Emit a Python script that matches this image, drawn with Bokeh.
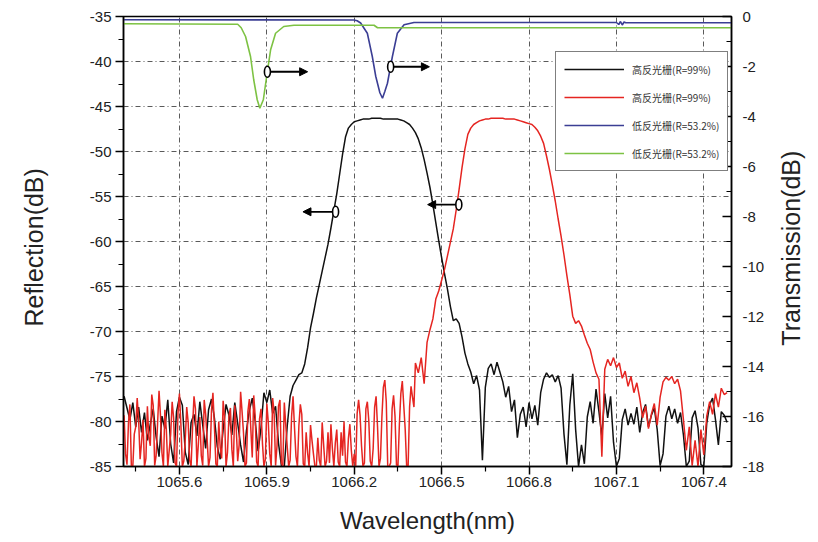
import numpy as np
from bokeh.plotting import figure
from bokeh.layouts import row
from bokeh.core.properties import value
from bokeh.models import (Range1d, LinearAxis, FixedTicker, PrintfTickFormatter,
                          Legend, LegendItem, Arrow, NormalHead)
from bokeh.embed import file_html
from bokeh.resources import INLINE

# ---------------- data ----------------
STEP = 0.01       # OSA sampling step of the reflection traces (nm)
FINE_STEP = 0.005 # denser sampling used for the red noise floor

# High-reflectivity grating, reflection (dB, left axis)
black_left_start = 1065.41
black_left_db = [-77.2, -78.5, -79.8, -77.9, -80.6, -78.4, -81.2, -79.0, -82.1, -80.3,
                 -78.6, -81.7, -83.9, -79.4, -80.8, -77.6, -82.5, -84.6, -78.9, -77.3,
                 -78.2, -83.4, -84.8, -80.1, -79.2, -81.6, -77.8, -80.4, -83.0, -78.7,
                 -77.5, -79.6, -82.8, -84.2, -80.9, -78.1, -79.3, -81.5, -77.9, -80.2,
                 -82.6, -84.5, -81.0, -78.8, -77.4, -79.9, -83.3, -80.7, -76.8, -77.9,
                 -76.5, -79.1, -78.3, -82.4, -84.9, -85.0, -80.5, -77.2, -76.0, -75.4,
                 -74.8]
black_peak_start = 1066.02
black_peak_db = [-74.6, -73.6, -71.8, -69.6, -68.0, -66.3, -64.8, -63.3, -61.8, -60.3,
                 -58.5, -56.6, -54.7, -52.5, -50.3, -48.4, -47.4, -47.0, -46.7, -46.6,
                 -46.5, -46.4, -46.4, -46.4, -46.3, -46.3, -46.3, -46.3, -46.4, -46.4,
                 -46.4, -46.4, -46.4, -46.4, -46.5, -46.6, -46.8, -47.0, -47.4, -47.9,
                 -48.6, -49.6, -50.9, -52.4, -54.0, -55.9, -57.9, -59.9, -61.8, -63.6,
                 -65.3, -67.2, -68.8, -68.6, -69.1, -70.6, -72.4, -73.6, -74.5]
black_right_start = 1066.61
black_right_db = [-75.8, -74.9, -76.5, -84.3, -76.2, -74.1, -73.6, -74.8, -73.4, -74.5,
                  -75.6, -77.3, -76.1, -78.9, -77.6, -81.8, -79.2, -78.4, -80.6, -77.9,
                  -79.7, -78.2, -80.4, -76.8, -75.3, -74.6, -75.1, -74.8, -75.6, -74.9,
                  -76.3, -81.4, -84.8, -78.2, -74.7, -80.9, -85.0, -82.6, -84.7, -79.5,
                  -77.8, -80.2, -76.4, -78.9, -81.7, -76.9, -79.6, -77.2, -82.3, -85.0,
                  -84.1, -79.8, -78.6, -80.4, -79.1, -80.3, -78.4, -81.2, -79.0, -78.1,
                  -80.6, -79.3, -78.5, -80.9, -84.9, -83.6, -79.4, -78.3, -79.7, -78.6,
                  -80.2, -79.0, -81.5, -85.0, -84.4, -79.6, -78.8, -80.7, -84.8, -85.0,
                  -80.2, -78.1, -77.4, -79.8, -82.6, -78.9, -79.3, -80.1]

# Second high-reflectivity grating, reflection (dB, left axis)
red_left_start = 1065.41
red_left_db = [-79.3, -83.6, -84.8, -80.2, -78.1, -85.0, -85.0, -81.4, -80.6, -77.4,
               -79.9, -84.2, -82.3, -79.8, -85.0, -84.1, -78.3, -81.7, -82.7, -77.0,
               -78.2, -84.9, -83.8, -80.2, -76.6, -79.4, -83.5, -85.0, -78.7, -80.9,
               -85.0, -83.2, -81.4, -77.8, -79.6, -84.6, -85.0, -79.1, -76.9, -80.3,
               -85.0, -84.4, -82.0, -78.4, -80.1, -84.3, -85.0, -80.7, -77.2, -78.6,
               -85.0, -82.5, -79.5, -83.8, -84.9, -77.6, -79.2, -81.9, -85.0, -84.0,
               -78.8, -76.8, -80.5, -84.7, -85.0, -80.0, -82.9, -84.1, -77.7, -79.6,
               -85.0, -83.4, -79.4, -78.5, -83.1, -85.0, -78.2, -80.8, -84.4, -82.6,
               -76.7, -78.9, -81.3, -85.0, -84.6, -78.9, -77.5, -80.8, -84.0, -77.1,
               -79.4, -84.5, -85.0, -79.7, -78.6, -82.4, -85.0, -84.2, -78.0, -80.1,
               -83.6, -85.0, -77.4, -79.0, -84.9, -82.7, -78.3, -77.6, -84.6, -85.0,
               -77.9, -80.4, -82.8, -85.0, -84.3, -79.4, -77.2, -80.7, -83.9, -85.0,
               -80.5, -78.1, -79.2, -84.7, -85.0, -81.2, -83.5, -85.0, -80.4, -82.1,
               -83.6, -85.0, -85.0, -81.8, -84.3, -85.0, -80.1, -82.6, -85.0, -84.4,
               -81.2, -84.6, -80.3, -83.0, -85.0, -82.4, -80.9, -84.5, -85.0, -81.2,
               -83.8, -80.0, -84.5, -85.0, -81.9, -80.3, -83.2, -85.0, -83.6, -85.0,
               -79.1, -77.6, -79.3, -82.7, -85.0, -84.6, -78.6, -77.8, -79.9, -84.4,
               -85.0, -83.0, -78.4, -77.2, -80.6, -85.0, -84.1, -79.5, -76.2, -75.4,
               -77.8, -85.0, -85.0, -84.6, -78.6, -77.1, -79.4, -84.8, -85.0, -80.3,
               -76.9, -75.5, -78.2, -80.9, -85.0, -85.0, -78.4, -76.1, -77.3, -78.4]
red_peak_start = 1066.41
red_peak_db = [-73.5, -74.6, -72.9, -75.8, -71.2, -69.8, -68.6, -66.4, -65.5, -64.3,
               -63.1, -61.6, -60.1, -58.6, -56.5, -54.2, -51.8, -49.7, -48.1, -47.4,
               -47.0, -46.8, -46.6, -46.5, -46.4, -46.4, -46.3, -46.3, -46.3, -46.3,
               -46.3, -46.4, -46.4, -46.4, -46.4, -46.5, -46.6, -46.7, -46.8, -46.9,
               -47.0, -47.3, -47.7, -48.3, -49.1, -50.5, -52.0, -53.7, -55.5, -57.5,
               -59.4, -61.5, -63.8, -65.9, -68.3, -69.1, -68.8, -69.4, -70.4, -71.3,
               -72.0, -73.4, -74.6]
red_right_start = 1067.04
red_right_db = [-75.3, -83.9, -74.2, -73.1, -73.8, -72.9, -74.0, -73.5, -75.2, -74.4,
                -76.1, -75.0, -76.8, -75.7, -77.4, -79.6, -78.3, -80.8, -79.2, -78.0,
                -80.4, -77.3, -75.6, -75.1, -75.4, -75.0, -75.8, -75.3, -76.6, -79.8,
                -83.2, -80.6, -84.9, -82.1, -85.0, -80.9, -83.7, -79.4, -77.8, -79.2,
                -76.9, -78.4, -76.3, -77.0, -76.8]

# Low-reflectivity gratings, transmission (dB, right axis)
blue_wl = [1065.408, 1066.199, 1066.210, 1066.222, 1066.245, 1066.262, 1066.274, 1066.288,
           1066.297, 1066.305, 1066.314, 1066.331, 1066.348, 1066.371, 1066.405,
           1067.100, 1067.108, 1067.114, 1067.120, 1067.126, 1067.132, 1067.495]
blue_t = [-0.13, -0.14, -0.17, -0.26, -0.67, -1.6, -2.4, -3.05,
          -3.27, -3.0, -2.67, -1.6, -0.67, -0.33, -0.24,
          -0.24, -0.32, -0.2, -0.34, -0.22, -0.25, -0.25]

green_wl = [1065.408, 1065.800, 1065.812, 1065.827, 1065.844, 1065.855, 1065.867, 1065.876,
            1065.888, 1065.901, 1065.913, 1065.930, 1065.958, 1065.993, 1066.268, 1066.280,
            1067.495]
green_t = [-0.29, -0.31, -0.45, -0.8, -1.6, -2.53, -3.33, -3.67,
           -3.33, -2.27, -1.33, -0.67, -0.4, -0.35, -0.35, -0.45,
           -0.45]

series_labels = ["高反光栅(R=99%)", "高反光栅(R=99%)", "低反光栅(R=53.2%)", "低反光栅(R=53.2%)"]

x_ticks = [1065.6, 1065.9, 1066.2, 1066.5, 1066.8, 1067.1, 1067.4]
x_minor = [1065.45, 1065.75, 1066.05, 1066.35, 1066.65, 1066.95, 1067.25]
y_ticks = [-85, -80, -75, -70, -65, -60, -55, -50, -45, -40, -35]
y_minor = [-82.5, -77.5, -72.5, -67.5, -62.5, -57.5, -52.5, -47.5, -42.5, -37.5]
t_ticks = [-18, -16, -14, -12, -10, -8, -6, -4, -2, 0]
t_minor = [-17, -15, -13, -11, -9, -7, -5, -3, -1]
x_title = "Wavelength(nm)"
left_title = "Reflection(dB)"
right_title = "Transmission(dB)"

# annotation anchors (circle on curve, arrow towards its axis)
# (x_circle, y_circle, x_arrow_end, range)
marks = [
    (1065.902, -2.21, 1066.040, "trans"),   # green -> right axis
    (1066.325, -2.01, 1066.458, "trans"),   # blue  -> right axis
    (1066.136, -56.7, 1066.024, "default"),  # black -> left axis
    (1066.559, -55.9, 1066.452, "default"),  # red   -> left axis
]

# ---------------- build traces ----------------
def seg(start, vals, step=STEP):
    return start + step * np.arange(len(vals))

black_wl = np.concatenate([seg(black_left_start, black_left_db),
                           seg(black_peak_start, black_peak_db),
                           seg(black_right_start, black_right_db)])
black_db = black_left_db + black_peak_db + black_right_db
red_wl = np.concatenate([seg(red_left_start, red_left_db, FINE_STEP),
                         seg(red_peak_start, red_peak_db),
                         seg(red_right_start, red_right_db)])
red_db = red_left_db + red_peak_db + red_right_db

BLACK = "#111111"
RED = "#e52521"
BLUE = "#3b3e94"
GREEN = "#7dc243"
FONT = "Liberation Sans"
TXT = "#222222"
X0, X1 = 1065.408, 1067.495
H = 540

p = figure(width=720, height=H, output_backend="svg", toolbar_location=None,
           x_range=Range1d(X0, X1), y_range=Range1d(-85, -35),
           min_border_left=73, min_border_right=39, min_border_top=16,
           min_border_bottom=74)
p.extra_y_ranges = {"trans": Range1d(-18, 0)}
p.background_fill_color = "white"
p.border_fill_color = "white"
p.outline_line_color = "black"
p.outline_line_width = 1.5
p.outline_line_alpha = 1

# axes
xa = p.xaxis[0]
xa.ticker = FixedTicker(ticks=x_ticks, minor_ticks=x_minor)
xa.formatter = PrintfTickFormatter(format="%.1f")
xa.axis_label = x_title
xa.axis_label_standoff = 17
xa.major_label_standoff = 2

ya = p.yaxis[0]
ya.ticker = FixedTicker(ticks=y_ticks, minor_ticks=y_minor)
ya.formatter = PrintfTickFormatter(format="%d")
ya.major_label_standoff = 4

ra = LinearAxis(y_range_name="trans",
                ticker=FixedTicker(ticks=t_ticks, minor_ticks=t_minor),
                formatter=PrintfTickFormatter(format="%d"))
p.add_layout(ra, "right")
ra.major_label_standoff = 11

for ax in (xa, ya, ra):
    ax.axis_line_color = "black"
    ax.axis_line_width = 1.5
    ax.major_tick_line_color = "black"
    ax.major_tick_line_width = 1.5
    ax.minor_tick_line_color = "black"
    ax.minor_tick_line_width = 1.2
    ax.major_label_text_font = FONT
    ax.major_label_text_font_size = "15px"
    ax.major_label_text_color = TXT
    ax.axis_label_text_font = FONT
    ax.axis_label_text_font_size = "24px"
    ax.axis_label_text_font_style = "normal"
    ax.axis_label_text_color = TXT

for ax in (xa, ya):
    ax.major_tick_out = 8
    ax.major_tick_in = 0
    ax.minor_tick_out = 5
    ax.minor_tick_in = 0
ra.major_tick_out = 0
ra.major_tick_in = 9
ra.minor_tick_out = 0
ra.minor_tick_in = 5

# grid
for g in (p.xgrid[0], p.ygrid[0]):
    g.grid_line_color = "#5a5a5a"
    g.grid_line_width = 1
    g.grid_line_dash = "5 3 1 3"

# traces
r_black = p.line(black_wl, black_db, line_color=BLACK, line_width=1.5)
r_red = p.line(red_wl, red_db, line_color=RED, line_width=1.5)
r_blue = p.line(blue_wl, blue_t, line_color=BLUE, line_width=1.6, y_range_name="trans")
r_green = p.line(green_wl, green_t, line_color=GREEN, line_width=1.6, y_range_name="trans")

# annotations
for xc, yc, xe, rng in marks:
    direction = 1 if xe > xc else -1
    p.add_layout(Arrow(end=NormalHead(size=8, fill_color="black", line_color="black"),
                       x_start=xc + direction * 0.009, y_start=yc, x_end=xe, y_end=yc,
                       line_color="black", line_width=1.8, y_range_name=rng))
    p.ellipse(x=[xc], y=[yc], width=6, height=11, width_units="screen",
              height_units="screen", fill_color="white", line_color="black",
              line_width=1.6, y_range_name=rng, level="overlay")

legend = Legend(items=[LegendItem(label=series_labels[0], renderers=[r_black]),
                       LegendItem(label=series_labels[1], renderers=[r_red]),
                       LegendItem(label=series_labels[2], renderers=[r_blue]),
                       LegendItem(label=series_labels[3], renderers=[r_green])],
                location=(432, 295))
legend.label_text_font = "Noto Sans CJK SC"
legend.label_text_font_size = "10px"
legend.label_text_color = "#333333"
legend.border_line_color = "black"
legend.border_line_width = 1.2
legend.background_fill_color = "white"
legend.background_fill_alpha = 1
legend.padding = 8
legend.spacing = 10
legend.label_height = 18
legend.glyph_height = 18
legend.glyph_width = 60
legend.label_standoff = 8
legend.margin = 0
p.add_layout(legend)


def title_strip(width, text, x_center, y_center):
    """Narrow figure carrying a vertical axis title that reads bottom to top."""
    s = figure(width=width, height=H, output_backend="svg", toolbar_location=None,
               x_range=Range1d(0, width), y_range=Range1d(0, H), min_border=0)
    s.axis.visible = False
    s.grid.visible = False
    s.outline_line_color = None
    s.background_fill_color = "white"
    s.border_fill_color = "white"
    s.text(x=[x_center], y=[y_center], text=[text], angle=np.pi / 2,
           text_align="center", text_baseline="middle",
           text_font=value(FONT), text_font_size="25px", text_color=TXT)
    return s


p0 = title_strip(50, left_title, 33, 263)
p2 = title_strip(40, right_title, 20, 262)

layout = row(p0, p, p2)
open("out.html", "w").write(file_html(layout, INLINE))
